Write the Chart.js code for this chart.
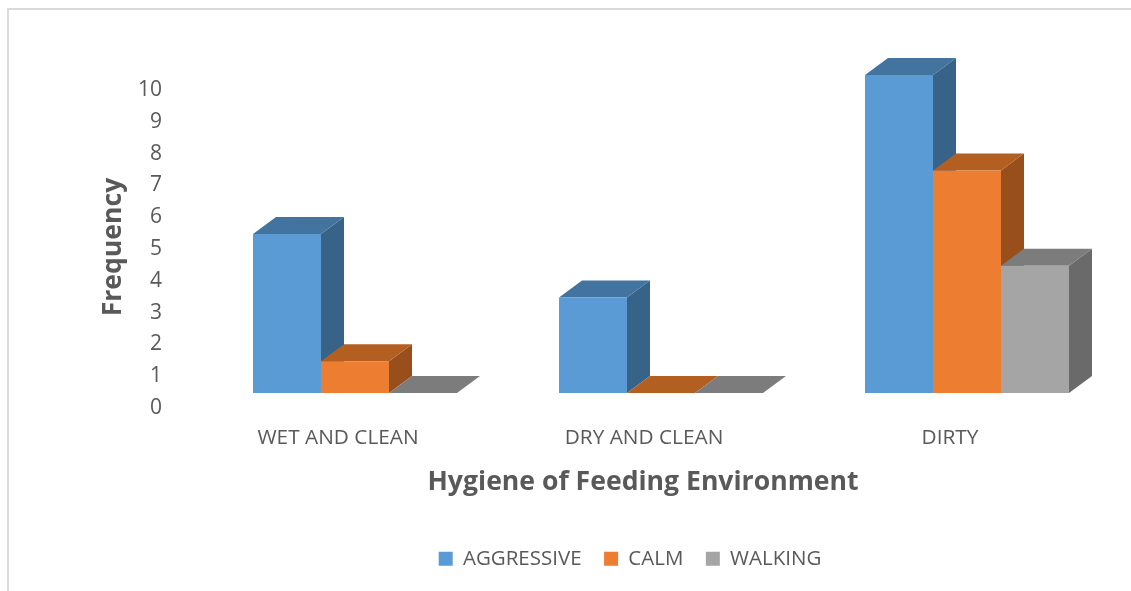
<!DOCTYPE html>
<html>
<head>
<meta charset="utf-8">
<title>Hygiene of Feeding Environment</title>
<script src="https://cdn.jsdelivr.net/npm/chart.js@4"></script>
<style>
  html, body { margin: 0; padding: 0; background: #fff; }
  #wrap { position: relative; width: 1131px; height: 591px; }
</style>
</head>
<body>
<div id="wrap"><canvas id="chart" width="1131" height="591"></canvas></div>
<script>
"use strict";

const CATEGORIES = ['WET AND CLEAN', 'DRY AND CLEAN', 'DIRTY'];
const AGGRESSIVE = [5, 3, 10];
const CALM = [1, 0, 7];
const WALKING = [0, 0, 4];

const Y_TITLE = 'Frequency';
const X_TITLE = 'Hygiene of Feeding Environment';

const TEXT_COLOR = '#595959';
const FONT_FAMILY = '"Open Sans", sans-serif';

// depth of the fake 3D extrusion
const DEPTH_X = 23;
const DEPTH_Y = 17;

const shades = [
    { top: '#43749F', side: '#376389' },
    { top: '#B45F22', side: '#984F1B' },
    { top: '#7C7C7C', side: '#6A6A6A' }
];

function fillPoly(ctx, color, pts) {
    ctx.fillStyle = color;
    ctx.beginPath();
    ctx.moveTo(pts[0][0], pts[0][1]);
    for (let i = 1; i < pts.length; i++) ctx.lineTo(pts[i][0], pts[i][1]);
    ctx.closePath();
    ctx.fill();
}

const bars3d = {
    id: 'bars3d',
    beforeDatasetsDraw(chart) {
        const ctx = chart.ctx;
        ctx.save();
        chart.data.datasets.forEach((ds, i) => {
            chart.getDatasetMeta(i).data.forEach(bar => {
                const p = bar.getProps(['x', 'y', 'base', 'width'], true);
                const l = p.x - p.width / 2;
                const r = p.x + p.width / 2;
                fillPoly(ctx, shades[i].side, [[r, p.base], [r + DEPTH_X, p.base - DEPTH_Y], [r + DEPTH_X, p.y - DEPTH_Y], [r, p.y]]);
                fillPoly(ctx, shades[i].top, [[l, p.y], [l + DEPTH_X, p.y - DEPTH_Y], [r + DEPTH_X, p.y - DEPTH_Y], [r, p.y]]);
            });
        });
        ctx.restore();
    }
};

// frame, axis titles sit off-centre from the plot because of the 3D depth
const decorations = {
    id: 'decorations',
    afterLayout(chart) {
        chart.legend.left += 19;
        chart.legend.right += 19;
    },
    beforeDraw(chart) {
        const ctx = chart.ctx;
        ctx.save();
        ctx.strokeStyle = '#DADADA';
        ctx.lineWidth = 2;
        ctx.beginPath();
        ctx.moveTo(8, 591);
        ctx.lineTo(8, 9);
        ctx.lineTo(1131, 9);
        ctx.stroke();
        ctx.restore();
    },
    afterDraw(chart) {
        const ctx = chart.ctx;
        ctx.save();
        ctx.fillStyle = TEXT_COLOR;
        ctx.font = 'bold 26.6px ' + FONT_FAMILY;
        ctx.textAlign = 'center';
        ctx.textBaseline = 'middle';
        ctx.fillText(X_TITLE, 643, 482);
        ctx.translate(113, 247);
        ctx.rotate(-Math.PI / 2);
        ctx.fillText(Y_TITLE, 0, 0);
        ctx.restore();
    }
};

new Chart(document.getElementById('chart').getContext('2d'), {
    type: 'bar',
    data: {
        labels: CATEGORIES,
        datasets: [
            { label: 'AGGRESSIVE', data: AGGRESSIVE, backgroundColor: '#5B9BD5' },
            { label: 'CALM', data: CALM, backgroundColor: '#ED7D31' },
            { label: 'WALKING', data: WALKING, backgroundColor: '#A5A5A5' }
        ]
    },
    options: {
        responsive: false,
        animation: false,
        categoryPercentage: 2 / 3,
        barPercentage: 1,
        layout: {
            padding: { left: 102, right: 11, top: 75, bottom: 12 }
        },
        scales: {
            x: {
                grid: { display: false, drawTicks: false },
                border: { display: false },
                ticks: {
                    color: TEXT_COLOR,
                    font: { family: FONT_FAMILY, size: 20.8 },
                    padding: 33,
                    labelOffset: -17,
                    maxRotation: 0,
                    autoSkip: false
                },
                afterFit(scale) { scale.height = 133; }
            },
            y: {
                min: 0,
                max: 10,
                grid: { display: false, drawTicks: false },
                border: { display: false },
                ticks: {
                    color: TEXT_COLOR,
                    font: { family: FONT_FAMILY, size: 21 },
                    stepSize: 1,
                    padding: 40,
                    labelOffset: 15
                },
                afterFit(scale) { scale.width = 100; }
            }
        },
        plugins: {
            title: { display: false },
            tooltip: { enabled: false },
            legend: {
                position: 'bottom',
                labels: {
                    color: TEXT_COLOR,
                    font: { family: FONT_FAMILY, size: 20.5 },
                    boxWidth: 14,
                    boxHeight: 14,
                    padding: 22.5
                }
            }
        }
    },
    plugins: [bars3d, decorations]
});
</script>
</body>
</html>
